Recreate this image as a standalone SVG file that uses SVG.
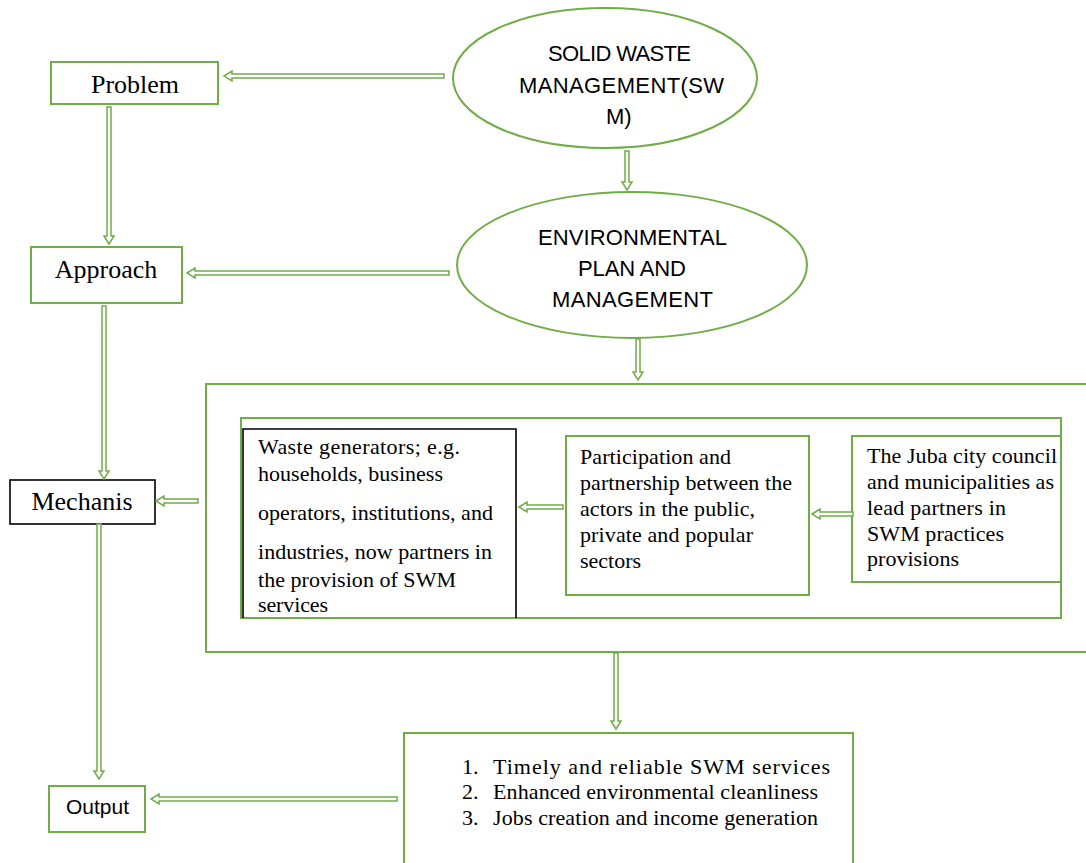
<svg xmlns="http://www.w3.org/2000/svg" width="1086" height="863" viewBox="0 0 1086 863">
<style>
.g{fill:none;stroke:#70AD47;stroke-width:2}
.k{fill:none;stroke:#000;stroke-width:1.6}
.a{fill:#fff;stroke:#70AD47;stroke-width:1.5;stroke-linejoin:miter}
.s{font-family:"Liberation Serif","Times New Roman",serif;fill:#000}
.f{font-family:"Liberation Sans",Arial,sans-serif;fill:#000}
</style>
<rect width="1086" height="863" fill="#fff"/>
<g id="problem"><rect class="g" x="51" y="62" width="167" height="42"/><text class="s" x="135" y="93" font-size="26" text-anchor="middle">Problem</text></g>
<g id="approach"><rect class="g" x="31" y="247" width="151" height="56"/><text class="s" x="106" y="278" font-size="26" text-anchor="middle">Approach</text></g>
<g id="mechanis"><rect class="k" x="10" y="480" width="145" height="44"/><text class="s" x="82" y="510" font-size="26" text-anchor="middle">Mechanis</text></g>
<g id="output"><rect class="g" x="49" y="786" width="96" height="46"/><text class="f" x="66" y="814" font-size="20" textLength="63" lengthAdjust="spacingAndGlyphs">Output</text></g>
<g id="swm"><ellipse class="g" cx="605" cy="78" rx="152" ry="70"/>
<text class="f" font-size="22" lengthAdjust="spacingAndGlyphs"><tspan x="548" y="61" textLength="143">SOLID WASTE</tspan><tspan x="519" y="93" textLength="205">MANAGEMENT(SW</tspan><tspan x="606" y="124">M)</tspan></text></g>
<g id="epm"><ellipse class="g" cx="632" cy="265" rx="175" ry="73"/>
<text class="f" font-size="22" lengthAdjust="spacingAndGlyphs"><tspan x="538" y="245" textLength="189">ENVIRONMENTAL</tspan><tspan x="578" y="276" textLength="108">PLAN AND</tspan><tspan x="552" y="307" textLength="161">MANAGEMENT</tspan></text></g>
<g id="outer-box"><path class="g" d="M1086 384 H206 V652 H1086"/></g>
<g id="inner-box"><rect class="g" x="241" y="418" width="820" height="200"/></g>
<g id="waste-generators"><path class="k" d="M243 618 V429 H516 V618"/>
<text class="s" font-size="22" lengthAdjust="spacingAndGlyphs"><tspan x="258" y="454" textLength="202">Waste generators; e.g.</tspan><tspan x="258" y="481" textLength="185">households, business</tspan><tspan x="258" y="520" textLength="235">operators, institutions, and</tspan><tspan x="258" y="559" textLength="234">industries, now partners in</tspan><tspan x="258" y="587" textLength="198">the provision of SWM</tspan><tspan x="258" y="612" textLength="70">services</tspan></text></g>
<g id="participation"><rect class="g" x="566" y="436" width="243" height="159"/>
<text class="s" font-size="22" lengthAdjust="spacingAndGlyphs"><tspan x="580" y="464" textLength="151">Participation and</tspan><tspan x="580" y="490" textLength="212">partnership between the</tspan><tspan x="580" y="516" textLength="175">actors in the public,</tspan><tspan x="580" y="542" textLength="173">private and popular</tspan><tspan x="580" y="568" textLength="61">sectors</tspan></text></g>
<g id="juba"><rect class="g" x="852" y="436" width="209" height="146"/>
<text class="s" font-size="22" lengthAdjust="spacingAndGlyphs"><tspan x="867" y="463" textLength="190">The Juba city council</tspan><tspan x="867" y="489" textLength="187">and municipalities as</tspan><tspan x="867" y="515" textLength="139">lead partners in</tspan><tspan x="867" y="541" textLength="137">SWM practices</tspan><tspan x="867" y="566" textLength="92">provisions</tspan></text></g>
<g id="outputs"><path class="g" d="M404 863 V733 H853 V863"/>
<text class="s" font-size="22" lengthAdjust="spacingAndGlyphs"><tspan x="462" y="774">1.</tspan><tspan x="493" y="774" textLength="337">Timely and reliable SWM services</tspan><tspan x="462" y="799">2.</tspan><tspan x="493" y="799" textLength="325">Enhanced environmental cleanliness</tspan><tspan x="462" y="825">3.</tspan><tspan x="493" y="825" textLength="325">Jobs creation and income generation</tspan></text></g>
<g id="connectors">
<path class="a" d="M224 76 L232 71 L232 74 L444 74 L444 78 L232 78 L232 81 Z"/>
<path class="a" d="M627 190 L622 182 L625 182 L625 151 L629 151 L629 182 L632 182 Z"/>
<path class="a" d="M109 244 L104 236 L107 236 L107 107 L111 107 L111 236 L114 236 Z"/>
<path class="a" d="M187 273 L195 268 L195 271 L449 271 L449 275 L195 275 L195 278 Z"/>
<path class="a" d="M638 380 L633 372 L636 372 L636 339 L640 339 L640 372 L643 372 Z"/>
<path class="a" d="M156 501 L164 496 L164 499 L198 499 L198 503 L164 503 L164 506 Z"/>
<path class="a" d="M104 479 L99 471 L102 471 L102 306 L106 306 L106 471 L109 471 Z"/>
<path class="a" d="M99 779 L94 771 L97 771 L97 524 L101 524 L101 771 L104 771 Z"/>
<path class="a" d="M519 507 L527 502 L527 505 L563 505 L563 509 L527 509 L527 512 Z"/>
<path class="a" d="M812 514 L820 509 L820 512 L853 512 L853 516 L820 516 L820 519 Z"/>
<path class="a" d="M616 729 L611 721 L614 721 L614 653 L618 653 L618 721 L621 721 Z"/>
<path class="a" d="M151 799 L159 794 L159 797 L397 797 L397 801 L159 801 L159 804 Z"/>
</g>
</svg>
